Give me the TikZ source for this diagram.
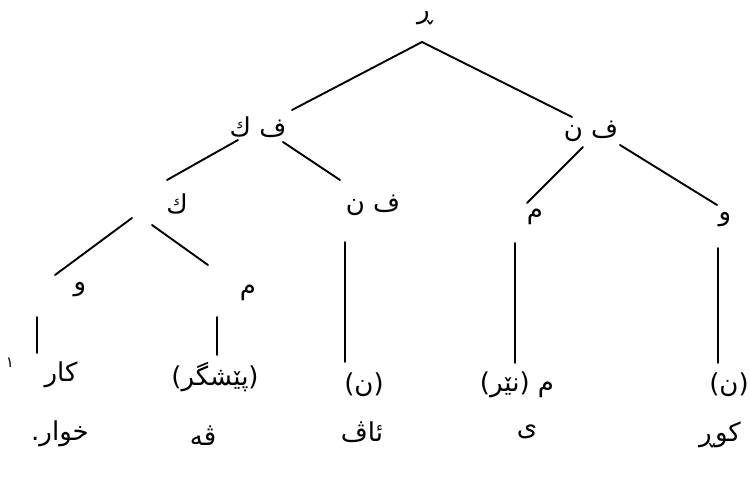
\documentclass[tikz,border=0pt]{standalone}
\usepackage{fontspec}
\newfontfamily\arabicfont[Script=Arabic]{DejaVu Sans}
\TeXXeTstate=1
\usetikzlibrary{calc}
\begin{document}
\begin{tikzpicture}[x=1pt,y=-1pt,
  lbl/.style={font=\arabicfont\fontsize{26}{30}\selectfont, inner sep=0pt},
  small/.style={font=\arabicfont\fontsize{15}{18}\selectfont, inner sep=0pt},
  edge/.style={line width=1.9pt, line cap=round}]
\useasboundingbox (0,0) rectangle (750,481);
% tree labels
\node[lbl] (r)   at (425,18)  {\beginR ڕ\endR};
\node[lbl] (fk)  at (258,127) {\beginR ف ك\endR};
\node[lbl] (fn)  at (591,131) {\beginR ف ن\endR};
\node[lbl] (k)   at (177,204) {\beginR ك\endR};
\node[lbl] (fn2) at (373,205) {\beginR ف ن\endR};
\node[lbl] (m2)  at (535,217) {\beginR م\endR};
\node[lbl] (w2)  at (725,220) {\beginR و\endR};
\node[lbl] (w1)  at (80,290)  {\beginR و\endR};
\node[lbl] (m1)  at (248,293) {\beginR م\endR};
% leaves, first row
\node[lbl] (kar)  at (61,375)  {\beginR کار\endR};
\node[small] (one) at (10,363) {\beginR ١\endR};
\node[lbl] (pish) at (215,377) {\beginR (پێشگر)\endR};
\node[lbl] (n1)   at (364,385) {\beginR (ن)\endR};
\node[lbl] (mnir) at (517,385) {\beginR م (نێر)\endR};
\node[lbl] (n2)   at (729,385) {\beginR (ن)\endR};
% leaves, second row
\node[lbl] (khwar) at (60,434)  {\beginR خوار.\endR};
\node[lbl] (ve)    at (203,436) {\beginR ڤە\endR};
\node[lbl] (av)    at (362,432) {\beginR ئاڤ\endR};
\node[lbl] (y)     at (527,432) {\beginR ی\endR};
\node[lbl] (kur)   at (720,435) {\beginR کوڕ\endR};
% connectors
\draw[edge] ($(r)+(-3,24)$) -- ($(fk)+(34,-17)$);
\draw[edge] ($(r)+(-3,24)$) -- ($(fn)+(-19,-14)$);
\draw[edge] ($(fk)+(-20,13)$) -- ($(k)+(-10,-24)$);
\draw[edge] ($(fk)+(25,15)$) -- ($(fn2)+(-33,-25)$);
\draw[edge] ($(fn)+(-8,16)$) -- ($(m2)+(-8,-14)$);
\draw[edge] ($(fn)+(29,14)$) -- ($(w2)+(-8,-15)$);
\draw[edge] ($(k)+(-45,14)$) -- ($(w1)+(-25,-15)$);
\draw[edge] ($(k)+(-25,21)$) -- ($(m1)+(-40,-28)$);
\draw[edge] ($(w1)+(-43,27)$) -- ($(kar)+(-24,-22)$);
\draw[edge] ($(m1)+(-31,24)$) -- ($(pish)+(2,-22)$);
\draw[edge] ($(fn2)+(-28,37)$) -- ($(n1)+(-19,-23)$);
\draw[edge] ($(m2)+(-20,26)$) -- ($(mnir)+(-2,-22)$);
\draw[edge] ($(w2)+(-7,28)$) -- ($(n2)+(-11,-22)$);
\end{tikzpicture}
\end{document}
